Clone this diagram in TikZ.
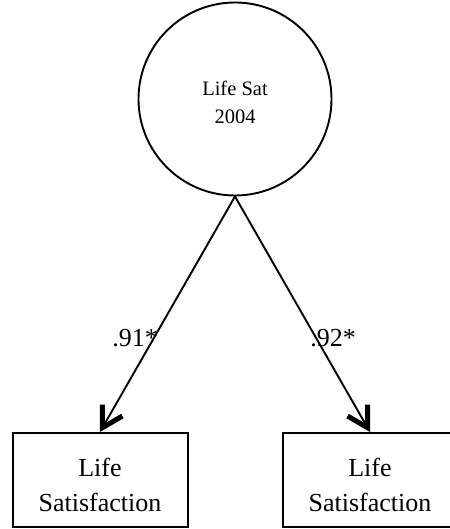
\documentclass[tikz,border=0pt]{standalone}
\usepackage{fontspec}
\setmainfont{Liberation Serif}
\usetikzlibrary{arrows.meta}
\tikzset{
  latent/.style={circle,draw,line width=1.9pt,minimum size=193pt,inner sep=0pt,
    align=center,font=\fontsize{20.5}{28}\selectfont},
  indicator/.style={rectangle,draw,line width=2pt,minimum width=175pt,minimum height=94pt,
    inner sep=0pt,align=center,font=\fontsize{26}{35.5}\selectfont},
  loading/.style={line width=1.9pt,line join=round,
    -{Straight Barb[length=20pt,width=23pt,line width=5pt]}},
  coef/.style={font=\fontsize{26}{30}\selectfont,inner sep=0pt}
}
\begin{document}
\begin{tikzpicture}[x=1pt,y=-1pt]
\useasboundingbox (0,0) rectangle (449,529);
\node[latent] (lat) at (235,99) {\rule{0pt}{22pt}Life Sat\\2004};
\node[indicator] (ind1) at (100,480) {\rule{0pt}{28.5pt}Life\\Satisfaction};
\node[indicator] (ind2) at (370,480) {\rule{0pt}{28.5pt}Life\\Satisfaction};
\draw[loading] (lat.south) -- (ind1.north);
\draw[loading] (lat.south) -- (ind2.north);
\node[coef] (c1) at (135,338) {.91*};
\node[coef] (c2) at (333,338) {.92*};
\end{tikzpicture}
\end{document}
